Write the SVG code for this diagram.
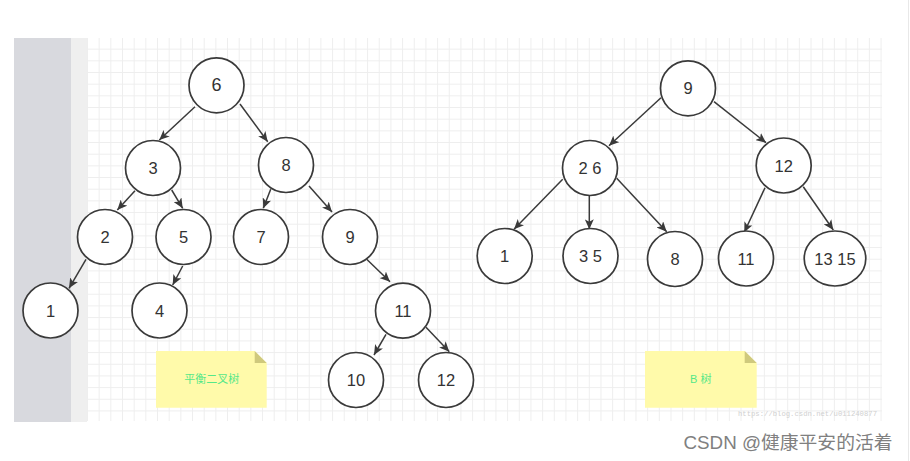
<svg xmlns="http://www.w3.org/2000/svg" width="910" height="461" viewBox="0 0 910 461">
<defs>
<pattern id="grid" x="87" y="37" width="11.67" height="11.67" patternUnits="userSpaceOnUse">
<path d="M0.5,0 V11.67 M0,0.5 H11.67" fill="none" stroke="#eeeeee" stroke-width="1"/>
</pattern>
<marker id="arr" markerWidth="10" markerHeight="9" refX="10" refY="4.5" orient="auto" markerUnits="userSpaceOnUse">
<path d="M0,0 L10,4.5 L0,9 L2.5,4.5 z" fill="#3a3a3a"/>
</marker>
<style>
.n circle, .n ellipse{fill:#fff;stroke:#3a3a3a;stroke-width:1.7}
.n text{font-family:"Liberation Sans",Arial,sans-serif;font-size:16.5px;fill:#333;text-anchor:middle;dominant-baseline:central}
.c line{stroke:#3a3a3a;stroke-width:1.5;marker-end:url(#arr)}
.note{fill:#fffaaa}
.fold{fill:#cfc97d}
.nt{font-family:"Liberation Sans","Noto Sans CJK SC",sans-serif;font-size:11px;fill:#55e888;text-anchor:middle;dominant-baseline:central}
</style>
</defs>
<rect width="910" height="461" fill="#fff"/>
<rect x="14" y="38" width="57" height="384" fill="#d8d9de"/>
<rect x="71" y="38" width="16" height="384" fill="#efefef"/>
<rect x="87" y="38" width="795" height="383" fill="url(#grid)"/>
<line x1="908.5" y1="0" x2="908.5" y2="461" stroke="#e8e8e8" stroke-width="1"/>

<g id="connectors" class="c">
<line x1="195" y1="106.7" x2="159.3" y2="140"/>
<line x1="240" y1="104" x2="267.7" y2="141.7"/>
<line x1="135" y1="190.7" x2="117.3" y2="210"/>
<line x1="171.7" y1="190" x2="182.7" y2="208.3"/>
<line x1="270.7" y1="189.3" x2="263.3" y2="208.3"/>
<line x1="309" y1="186" x2="332" y2="212"/>
<line x1="86" y1="259.3" x2="69" y2="288.3"/>
<line x1="182.7" y1="266" x2="172.7" y2="285"/>
<line x1="366.7" y1="259.3" x2="390" y2="281.7"/>
<line x1="386" y1="334.3" x2="374" y2="355"/>
<line x1="426" y1="327.3" x2="449.3" y2="351.7"/>
<line x1="661" y1="97.7" x2="609" y2="145.7"/>
<line x1="714" y1="101.7" x2="766" y2="142.7"/>
<line x1="562.7" y1="179.3" x2="514" y2="229.3"/>
<line x1="589.3" y1="196" x2="589.3" y2="229.3"/>
<line x1="616.7" y1="178.3" x2="666.7" y2="231.7"/>
<line x1="765" y1="187.7" x2="744.3" y2="232.3"/>
<line x1="803.3" y1="186.7" x2="833.3" y2="230"/>
</g>

<g id="n6" class="n"><circle cx="216.5" cy="85.3" r="27.5"/><text x="216.5" y="85.3" style="font-size:18px">6</text></g>
<g id="n3" class="n"><circle cx="153" cy="168" r="27.5"/><text x="153" y="168">3</text></g>
<g id="n8" class="n"><circle cx="286" cy="165" r="27.5"/><text x="286" y="165">8</text></g>
<g id="n2" class="n"><circle cx="105" cy="237" r="27.5"/><text x="105" y="237">2</text></g>
<g id="n5" class="n"><circle cx="183.5" cy="237" r="27.5"/><text x="183.5" y="237">5</text></g>
<g id="n7" class="n"><circle cx="261" cy="237" r="27.5"/><text x="261" y="237">7</text></g>
<g id="n9" class="n"><circle cx="350" cy="237" r="27.5"/><text x="350" y="237">9</text></g>
<g id="n1" class="n"><circle cx="50.5" cy="310.5" r="27.5"/><text x="50.5" y="310.5">1</text></g>
<g id="n4" class="n"><circle cx="159.5" cy="310.5" r="27.5"/><text x="159.5" y="310.5">4</text></g>
<g id="n11" class="n"><circle cx="403" cy="310.7" r="27.5"/><text x="403" y="310.7">11</text></g>
<g id="n10" class="n"><circle cx="356" cy="380" r="27.5"/><text x="356" y="380">10</text></g>
<g id="n12" class="n"><circle cx="446" cy="380" r="27.5"/><text x="446" y="380">12</text></g>

<g id="b9" class="n"><circle cx="688" cy="88.3" r="27.5"/><text x="688" y="88.3">9</text></g>
<g id="b26" class="n"><circle cx="590" cy="168" r="27.5"/><text x="590" y="168">2 6</text></g>
<g id="b12" class="n"><circle cx="783.7" cy="165.5" r="27.5"/><text x="783.7" y="165.5">12</text></g>
<g id="b1" class="n"><circle cx="504.7" cy="256" r="27.5"/><text x="504.7" y="256">1</text></g>
<g id="b35" class="n"><circle cx="590.5" cy="256" r="27.5"/><text x="590.5" y="256">3 5</text></g>
<g id="b8" class="n"><circle cx="675" cy="259" r="27.5"/><text x="675" y="259">8</text></g>
<g id="b11" class="n"><circle cx="746" cy="258.5" r="27.5"/><text x="746" y="258.5">11</text></g>
<g id="b1315" class="n"><ellipse cx="835" cy="258.5" rx="30.8" ry="27.5"/><text x="835" y="258.5">13 15</text></g>

<g id="note1">
<path class="note" d="M156,351 H254.7 L266.7,363 V407.7 H156 Z"/>
<path class="fold" d="M254.7,351 L266.7,363 H254.7 Z"/>
<text class="nt" x="211.7" y="378.5">平衡二叉树</text>
</g>
<g id="note2">
<path class="note" d="M645,351 H744.7 L756.7,363 V407.7 H645 Z"/>
<path class="fold" d="M744.7,351 L756.7,363 H744.7 Z"/>
<text class="nt" x="700.7" y="379.3">B 树</text>
</g>

<text x="738" y="415.5" font-family="Liberation Mono, monospace" font-size="7.5" fill="#d0d0d0" textLength="139" lengthAdjust="spacingAndGlyphs">https://blog.csdn.net/u011240877</text>
<text x="683.5" y="449" font-family="Liberation Sans, Noto Sans CJK SC, sans-serif" font-size="18" fill="#808080" textLength="209" lengthAdjust="spacingAndGlyphs">CSDN @健康平安的活着</text>
</svg>
